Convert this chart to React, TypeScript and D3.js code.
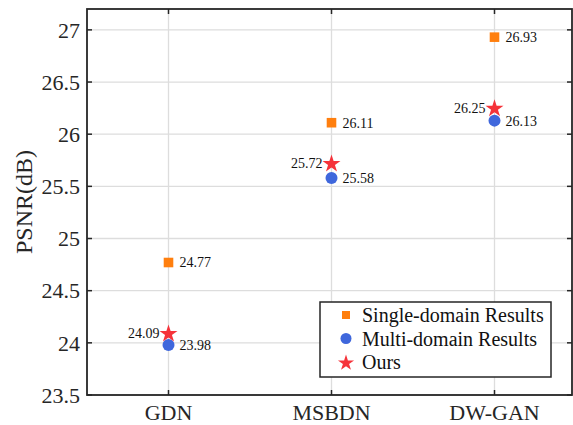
import React from "react";
import * as d3 from "d3";

const categories = ["GDN", "MSBDN", "DW-GAN"];
const singleDomain = [24.77, 26.11, 26.93];
const multiDomain = [23.98, 25.58, 26.13];
const ours = [24.09, 25.72, 26.25];
const yTicks = [23.5, 24, 24.5, 25, 25.5, 26, 26.5, 27];
const legendLabels = ["Single-domain Results", "Multi-domain Results", "Ours"];

const W = 573, H = 425;
const M = { left: 87, top: 9, right: 572, bottom: 395 };
const ORANGE = "#ff7f0e";
const BLUE = "#3f67dc";
const RED = "#f5333a";
const AX = "#262626";
const F = "Liberation Serif";

const x = d3.scaleBand<string>().domain(categories).range([M.left, M.left + 3 * 163]).paddingInner(0).paddingOuter(0);
const y = d3.scaleLinear().domain([23.5, 27.2]).range([M.bottom, M.top]);
const cx = (c: string) => (x(c) as number) + x.bandwidth() / 2;

const starPath = d3.symbol(d3.symbolStar, 100)() as string;
const squarePath = d3.symbol(d3.symbolSquare, 92)() as string;

export default function App() {
  return (
    <svg width={W} height={H} style={{ position: "absolute", left: 0, top: 0, background: "#fff" }}>
      {/* grid */}
      {yTicks.map((t) => (
        <line key={"gy" + t} x1={M.left} x2={M.right} y1={y(t)} y2={y(t)} stroke="#dddddd" strokeWidth={1.3} />
      ))}
      {categories.map((c) => (
        <line key={"gx" + c} x1={cx(c)} x2={cx(c)} y1={M.top} y2={M.bottom} stroke="#dddddd" strokeWidth={1.3} />
      ))}
      {/* ticks */}
      {yTicks.map((t) => (
        <g key={"ty" + t}>
          <line x1={M.left} x2={M.left + 5} y1={y(t)} y2={y(t)} stroke={AX} strokeWidth={1.5} />
          <line x1={M.right - 5} x2={M.right} y1={y(t)} y2={y(t)} stroke={AX} strokeWidth={1.5} />
          <text x={80} y={y(t)} dy="0.35em" textAnchor="end" fontSize={22} fontFamily={F} fill={AX}>{t}</text>
        </g>
      ))}
      {categories.map((c) => (
        <g key={"tx" + c}>
          <line x1={cx(c)} x2={cx(c)} y1={M.bottom} y2={M.bottom - 5} stroke={AX} strokeWidth={1.5} />
          <line x1={cx(c)} x2={cx(c)} y1={M.top} y2={M.top + 5} stroke={AX} strokeWidth={1.5} />
          <text x={cx(c)} y={419.5} textAnchor="middle" fontSize={22} fontFamily={F} fill={AX}>{c}</text>
        </g>
      ))}
      {/* frame */}
      <rect x={M.left} y={M.top} width={M.right - M.left} height={M.bottom - M.top} fill="none" stroke={AX} strokeWidth={1.8} />
      {/* y label */}
      <text transform={`translate(32,${(M.top + M.bottom) / 2}) rotate(-90)`} textAnchor="middle" fontSize={24} fontFamily={F} fill={AX}>PSNR(dB)</text>
      {/* data */}
      {categories.map((c, i) => (
        <g key={"d" + c}>
          <path d={squarePath} transform={`translate(${cx(c)},${y(singleDomain[i])})`} fill={ORANGE} />
          <text x={cx(c) + 11} y={y(singleDomain[i])} dy="0.35em" fontSize={14} fontFamily={F} fill="#111">{singleDomain[i].toFixed(2)}</text>
          <circle cx={cx(c)} cy={y(multiDomain[i])} r={6} fill={BLUE} />
          <text x={cx(c) + 11} y={y(multiDomain[i])} dy="0.35em" fontSize={14} fontFamily={F} fill="#111">{multiDomain[i].toFixed(2)}</text>
          <path d={starPath} transform={`translate(${cx(c)},${y(ours[i]) + 0.5})`} fill={RED} />
          <text x={cx(c) - 9} y={y(ours[i])} dy="0.35em" textAnchor="end" fontSize={14} fontFamily={F} fill="#111">{ours[i].toFixed(2)}</text>
        </g>
      ))}
      {/* legend */}
      <g>
        <rect x={320} y={302} width={231} height={75} fill="#fff" stroke={AX} strokeWidth={1.5} />
        {legendLabels.map((l, i) => {
          const ly = 315 + i * 23.5;
          return (
            <g key={l}>
              {i === 0 && <path d={d3.symbol(d3.symbolSquare, 64)() as string} transform={`translate(346,${ly})`} fill={ORANGE} />}
              {i === 1 && <circle cx={346} cy={ly} r={5.5} fill={BLUE} />}
              {i === 2 && <path d={d3.symbol(d3.symbolStar, 80)() as string} transform={`translate(346,${ly + 1})`} fill={RED} />}
              <text x={362} y={ly} dy="0.35em" fontSize={20} fontFamily={F} fill="#111">{l}</text>
            </g>
          );
        })}
      </g>
    </svg>
  );
}
